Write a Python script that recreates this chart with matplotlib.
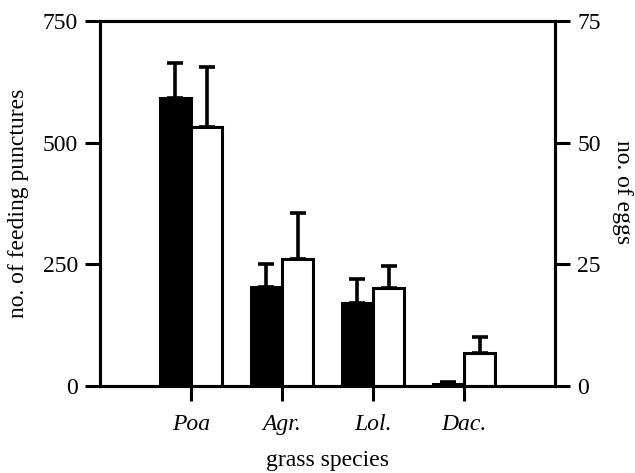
import matplotlib
matplotlib.use("Agg")
import matplotlib.pyplot as plt
import numpy as np

plt.rcParams['font.family'] = ['Liberation Serif', 'DejaVu Serif']

# grass species and the two measured series
species = ['Poa', 'Agr.', 'Lol.', 'Dac.']
punctures = [591, 204, 170, 5]
punctures_err = [72, 47, 49, 3]
eggs = [53.2, 26.0, 20.1, 6.8]
eggs_err = [12.3, 9.5, 4.6, 3.3]

left_ticks = [0, 250, 500, 750]
right_ticks = [0, 25, 50, 75]

fig = plt.figure(figsize=(6.35, 4.73), dpi=100)
ax = fig.add_axes([0.1575, 0.184, 0.7165, 0.772])
ax2 = ax.twinx()

x = np.arange(1, len(species) + 1)
w = 0.345
lw = 2.2
fs = 17

ax.bar(x - w / 2, punctures, w, color='black', edgecolor='black', linewidth=lw)
ax.errorbar(x - w / 2, punctures, yerr=[np.zeros(len(x)), punctures_err],
            fmt='none', ecolor='black', elinewidth=2.6, capsize=5.5, capthick=2.6)

ax2.bar(x + w / 2, eggs, w, color='white', edgecolor='black', linewidth=lw)
ax2.errorbar(x + w / 2, eggs, yerr=[np.zeros(len(x)), eggs_err],
             fmt='none', ecolor='black', elinewidth=2.6, capsize=5.5, capthick=2.6)

ax.set_xlim(0, 5)
ax.set_ylim(0, 750)
ax2.set_ylim(0, 75)
ax.set_yticks(left_ticks)
ax2.set_yticks(right_ticks)
ax.set_xticks(x)
ax.set_xticklabels(species, fontstyle='italic')

for a in (ax, ax2):
    for s in a.spines.values():
        s.set_linewidth(lw)
    a.tick_params(width=lw, length=11, labelsize=fs, pad=5)
ax.tick_params(axis='x', pad=9)

ax.set_ylabel('no. of feeding punctures', fontsize=fs, labelpad=10)
ax.set_xlabel('grass species', fontsize=fs, labelpad=11)
ax2.set_ylabel('no. of eggs', fontsize=fs, rotation=270)
ax2.yaxis.set_label_coords(1.172, 0.53)

fig.savefig('out.png', dpi=100)
